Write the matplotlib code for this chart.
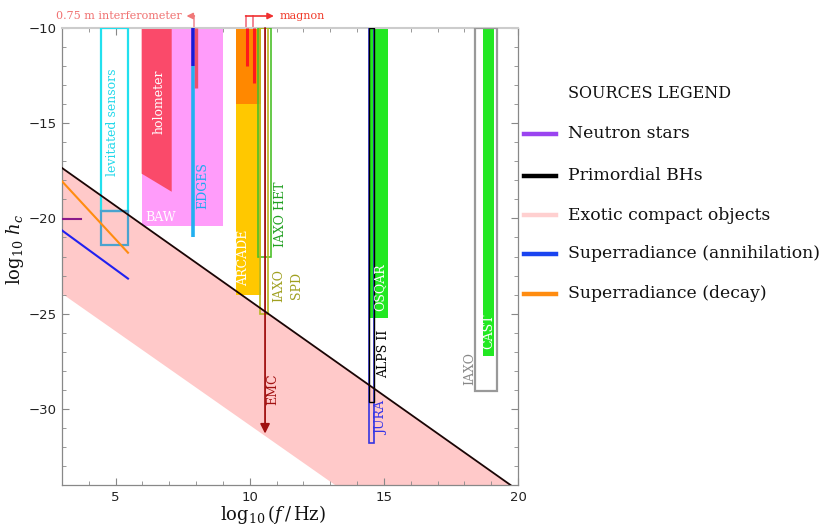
import matplotlib
matplotlib.use("Agg")
import matplotlib.pyplot as plt
from matplotlib.patches import Rectangle, Polygon
from matplotlib.lines import Line2D
from matplotlib.ticker import MultipleLocator

plt.rcParams['mathtext.fontset'] = 'dejavuserif'

# ---------------- data ----------------
x_limits = [3, 20]
y_limits = [-34, -10]

# exotic compact objects band (upper edge = primordial BH line)
eco_upper_x = [3.0, 19.72]
eco_upper_y = [-17.35, -34.0]
eco_lower_x = [3.0, 13.18]
eco_lower_y = [-23.95, -34.0]

# superradiance / neutron star lines
sr_decay_x = [3.0, 5.46]
sr_decay_y = [-18.05, -21.8]
sr_ann_x = [3.0, 5.46]
sr_ann_y = [-20.63, -23.16]
ns_x = [3.0, 3.7]
ns_y = [-20.03, -20.03]

# filled detector regions: log10 f range and log10 h_c range
filled_names = ["BAW", "ARCADE_hi", "ARCADE_lo", "OSQAR", "CAST"]
filled_fmin = [5.97, 9.49, 9.49, 14.45, 18.71]
filled_fmax = [8.99, 10.42, 10.42, 15.14, 19.11]
filled_hmin = [-20.42, -14.0, -24.02, -25.23, -27.2]
filled_hmax = [-10.0, -10.0, -14.0, -10.0, -10.0]

holometer_f = [5.97, 7.09, 7.09, 5.97]
holometer_h = [-10.0, -10.0, -18.6, -17.65]

# outlined detector regions
outline_names = ["lev_upper", "lev_lower", "IAXO_HET", "IAXO_SPD", "JURA", "ALPS", "IAXO"]
outline_fmin = [4.45, 4.45, 10.29, 10.38, 14.46, 14.46, 18.40]
outline_fmax = [5.47, 5.47, 10.79, 10.69, 14.64, 14.64, 19.21]
outline_hmin = [-19.63, -21.42, -22.03, -25.02, -31.77, -29.63, -29.05]
outline_hmax = [-10.0, -19.63, -10.0, -10.0, -10.0, -10.0, -10.0]

# vertical line detectors
vline_names = ["EDGES_lo", "EDGES_hi", "interf", "magnon1", "magnon2"]
vline_f = [7.87, 7.87, 7.985, 9.89, 10.15]
vline_htop = [-11.98, -10.0, -10.0, -10.0, -10.0]
vline_hbot = [-21.0, -11.98, -13.17, -11.98, -12.88]

emc_f = 10.57
emc_htop = -10.0
emc_hbot = -31.3

legend_labels = ["Neutron stars", "Primordial BHs", "Exotic compact objects",
                 "Superradiance (annihilation)", "Superradiance (decay)"]

# ---------------- styles ----------------
filled_colors = {"BAW": "#ff9cfa", "ARCADE_hi": "#ff8800", "ARCADE_lo": "#ffc800",
                 "OSQAR": "#22e822", "CAST": "#22e822"}
outline_styles = {"lev_upper": ("#22e0ee", 1.6), "lev_lower": ("#4aa3cf", 1.6),
                  "IAXO_HET": ("#4cc02a", 1.2), "IAXO_SPD": ("#b8b820", 1.2),
                  "JURA": ("#3535e0", 1.2), "ALPS": ("#000000", 1.0),
                  "IAXO": ("#999999", 1.6)}
vline_styles = {"EDGES_lo": ("#22b0f0", 2.6), "EDGES_hi": ("#1a1ad8", 2.6),
                "interf": ("#f0506a", 2.4), "magnon1": ("#ff1a1a", 2.2),
                "magnon2": ("#ff1a1a", 2.2)}
legend_colors = ["#9a44f0", "#000000", "#ffd0d0", "#1a44f0", "#ff8c10"]
serif = "DejaVu Serif"

fig = plt.figure(figsize=(8.3, 5.27), dpi=100)
ax = fig.add_axes([62/830, 1-485/527, (518-62)/830, (485-28)/527])
ax.set_xlim(*x_limits)
ax.set_ylim(*y_limits)

# exotic compact objects band
band = list(zip(eco_upper_x, eco_upper_y)) + list(zip(eco_lower_x[::-1], eco_lower_y[::-1]))
ax.add_patch(Polygon(band, closed=True, facecolor="#ffc9c9", edgecolor="none", zorder=1))

# filled regions
for n, f0, f1, h0, h1 in zip(filled_names, filled_fmin, filled_fmax, filled_hmin, filled_hmax):
    ax.add_patch(Rectangle((f0, h0), f1 - f0, h1 - h0, facecolor=filled_colors[n],
                           edgecolor="none", zorder=2))
ax.add_patch(Polygon(list(zip(holometer_f, holometer_h)), closed=True,
                     facecolor="#fa4a6a", edgecolor="none", zorder=2.5))

# outlines
for n, f0, f1, h0, h1 in zip(outline_names, outline_fmin, outline_fmax, outline_hmin, outline_hmax):
    c, lw = outline_styles[n]
    ax.add_patch(Rectangle((f0, h0), f1 - f0, h1 - h0, facecolor="none",
                           edgecolor=c, lw=lw, zorder=3))

# vertical lines
for n, f, ht, hb in zip(vline_names, vline_f, vline_htop, vline_hbot):
    c, lw = vline_styles[n]
    ax.plot([f, f], [ht, hb], color=c, lw=lw, solid_capstyle="butt", zorder=4)

# EMC arrow
ax.annotate("", xy=(emc_f, emc_hbot), xytext=(emc_f, emc_htop),
            arrowprops=dict(arrowstyle="-|>", color="#a01010", lw=1.3,
                            mutation_scale=14, shrinkA=0, shrinkB=0), zorder=4)

# source lines
ax.plot(sr_decay_x, sr_decay_y, color="#ff8c10", lw=1.5, zorder=5)
ax.plot(sr_ann_x, sr_ann_y, color="#2020f0", lw=1.5, zorder=5)
ax.plot(ns_x, ns_y, color="#8a1a8a", lw=1.5, zorder=5)
ax.plot(eco_upper_x, eco_upper_y, color="#1a0505", lw=1.3, zorder=6)

# text labels
def vt(x, y, s, c, **kw):
    ax.text(x, y, s, color=c, rotation=90, ha="center", va="center",
            family=serif, fontsize=9, zorder=7, **kw)

vt(4.9, -14.95, "levitated sensors", "#22d8ea")
vt(6.62, -13.85, "holometer", "white")
ax.text(6.12, -19.95, "BAW", color="white", ha="left", va="center",
        family=serif, fontsize=9, zorder=7)
vt(8.25, -18.25, "EDGES", "#20a8f0")
vt(9.76, -22.05, "ARCADE", "white")
vt(11.13, -19.79, "IAXO HET", "#22a022")
vt(11.41, -23.5, "IAXO\nSPD", "#a0a020", linespacing=1.5, multialignment="center")
vt(10.87, -28.95, "EMC", "#a01010")
vt(14.85, -23.6, "OSQAR", "white")
vt(14.98, -27.1, "ALPS II", "black")
vt(14.92, -30.5, "JURA", "#3535e8")
vt(18.21, -27.9, "IAXO", "#888888")
vt(18.92, -25.9, "CAST", "white")

# annotations above the frame
ya = -9.37
ax.plot([7.93, 7.93], [-10, ya], color="#f09098", lw=1.2, clip_on=False)
ax.annotate("", xy=(7.64, ya), xytext=(7.935, ya),
            arrowprops=dict(arrowstyle="-|>", color="#f07878", lw=1.2,
                            mutation_scale=9, shrinkA=0, shrinkB=0),
            annotation_clip=False)
ax.text(7.46, ya, "0.75 m interferometer", color="#f07070", ha="right", va="center",
        family=serif, fontsize=8, clip_on=False)
ax.plot([9.85, 9.85], [-10, ya], color="#f07080", lw=1.2, clip_on=False)
ax.plot([10.11, 10.11], [-10, ya], color="#f07080", lw=1.2, clip_on=False)
ax.annotate("", xy=(10.9, ya), xytext=(9.845, ya),
            arrowprops=dict(arrowstyle="-|>", color="#f03030", lw=1.2,
                            mutation_scale=9, shrinkA=0, shrinkB=0),
            annotation_clip=False)
ax.text(11.1, ya, "magnon", color="#f03a2a", ha="left", va="center",
        family=serif, fontsize=8, clip_on=False)

# axes styling
ax.xaxis.set_major_locator(MultipleLocator(5))
ax.xaxis.set_minor_locator(MultipleLocator(1))
ax.yaxis.set_major_locator(MultipleLocator(5))
ax.yaxis.set_minor_locator(MultipleLocator(1))
ax.tick_params(which="both", direction="in", top=True, right=True, color="#888888",
               labelsize=9.5, labelcolor="#222222")
ax.tick_params(which="major", length=5, width=0.8, pad=4)
ax.tick_params(which="minor", length=3, width=0.6)
for side in ["left", "bottom", "right"]:
    ax.spines[side].set_color("#888888")
    ax.spines[side].set_linewidth(0.9)
ax.spines["top"].set_color("#cccccc")
ax.spines["top"].set_linewidth(1.5)
ax.set_xticks([5, 10, 15, 20])
ax.set_xticklabels(["5", "10", "15", "20"])

fig.text(273/830, 1-515/527, r"$\log_{10}(f\,/\,\mathrm{Hz})$", ha="center", va="center",
         fontsize=13, color="#111111")
fig.text(15/830, 1-250/527, r"$\log_{10}\,h_c$", ha="center", va="center",
         rotation=90, fontsize=13, color="#111111")

# legend
fig.text(568/830, 1-93/527, "SOURCES LEGEND", family=serif, fontsize=11.5,
         ha="left", va="center", color="#111111")
rows = [134, 176, 215, 254, 294]
for lab, col, yp in zip(legend_labels, legend_colors, rows):
    yf = 1 - yp/527
    fig.add_artist(Line2D([524/830, 556/830], [yf, yf], color=col, lw=3.2,
                          transform=fig.transFigure))
    fig.text(568/830, yf, lab, family=serif, fontsize=12.4, ha="left", va="center",
             color="#111111")

fig.savefig("out.png", dpi=100)
